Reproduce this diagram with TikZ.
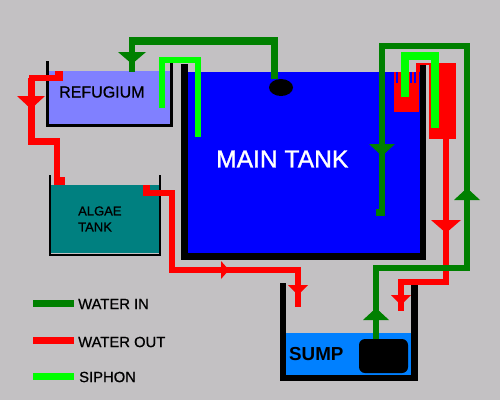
\documentclass[tikz,border=0pt]{standalone}
\usepackage{fontspec}
\setmainfont{Liberation Sans}
\newfontfamily\heavyfont[FakeBold=0.7]{Liberation Sans}
\newfontfamily\heavierfont[FakeBold=1.2]{Liberation Sans}
\definecolor{bggray}{HTML}{C3C1C3}
\definecolor{pgreen}{HTML}{008000}
\definecolor{pred}{HTML}{FF0000}
\definecolor{plime}{HTML}{00FF00}
\definecolor{pblue}{HTML}{0000FF}
\definecolor{refcol}{HTML}{8080FF}
\definecolor{algcol}{HTML}{008080}
\definecolor{sumpcol}{HTML}{0080FF}
\tikzset{
  pipe/.style={line width=#1,line cap=butt,line join=miter},
  greenpipe/.style={pipe=6pt,draw=pgreen},
  redpipe/.style={pipe=6pt,draw=pred},
  limepipe/.style={pipe=6pt,draw=plime},
  label/.style={anchor=west,inner sep=0pt,text=black},
}
\begin{document}
\begin{tikzpicture}[x=1pt,y=-1pt]
\useasboundingbox (0,0) rectangle (500,400);
\fill[bggray] (0,0) rectangle (500,400);
% water
\fill[refcol] (49,71) rectangle (170,124);
\fill[pblue] (188,72) rectangle (420,253);
\fill[algcol] (51,185) rectangle (159,253);
\fill[sumpcol] (286,333) rectangle (411,375);
% tank walls
\draw[pipe=3pt,draw=black] (47.5,61) -- (47.5,125.5) -- (171.5,125.5) -- (171.5,63);
\draw[pipe=7pt,draw=black] (184.5,64) -- (184.5,256.5) -- (423,256.5);
\fill[pred] (416,63) rectangle (431,72);
\fill[bggray] (426,65) rectangle (429,72);
\fill[pred] (394,72) rectangle (419,112);
\fill[pblue] (396,72) rectangle (398,83);
\fill[pblue] (410,72) rectangle (412,83);
\fill[pblue] (414,72) rectangle (416,83);
\fill[pred] (416,63) rectangle (420,72);
\fill[pred] (429,65) rectangle (439,139);
\fill[pred] (439,63) rectangle (456,139);
\fill[black] (420,65) rectangle (426,260);
\draw[pipe=2pt,draw=black] (50,175) -- (50,255) -- (160,255) -- (160,175);
\draw[pipe=6pt,draw=black] (283,283) -- (283,378) -- (414.5,378);
\fill[black] (411,285) rectangle (418,381);
% pump and overflow
\fill[black,rounded corners=6pt] (359,339) rectangle (408,373);
\fill[black] (281,87.5) ellipse [x radius=12,y radius=8.5];
% red pipes
\fill[pred] (55,71) rectangle (63,81);
\draw[redpipe] (63,78) -- (31.5,78) -- (31.5,141) -- (57,141) -- (57,185);
\draw[redpipe,line width=7pt] (28,141) -- (60,141);
\draw[redpipe,line width=7pt] (31.5,78) -- (31.5,141);
\fill[pred] (54,177) rectangle (65,185);
\fill[pred] (143,185) rectangle (150,196);
\draw[redpipe] (143,192.5) -- (172,192.5) -- (172,270) -- (298,270) -- (298,307);
\draw[redpipe] (446,139) -- (446,282) -- (401,282) -- (401,311);
% red arrows
\fill[pred] (17,96) -- (45,96) -- (31,109) -- cycle;
\fill[pred] (221,261) -- (221,279) -- (229,270) -- cycle;
\fill[pred] (288,285) -- (308,285) -- (298,295) -- cycle;
\fill[pred] (391,295) -- (411,295) -- (401,305) -- cycle;
\fill[pred] (431,220) -- (461,220) -- (446,233) -- cycle;
% lime siphons
\draw[limepipe] (162,108) -- (162,59.5) -- (198,59.5) -- (198,137);
\draw[limepipe,line width=8pt] (405,97) -- (405,55.5) -- (435,55.5) -- (435,128);
% green pipes
\fill[pgreen] (129,37) rectangle (278,45);
\draw[greenpipe] (132,37) -- (132,72);
\draw[greenpipe,line width=7pt] (274.5,37) -- (274.5,79);
\draw[greenpipe] (376,339) -- (376,268) -- (467,268) -- (467,46) -- (382,46) -- (382,216);
\fill[pgreen] (376,209) rectangle (385,216);
% green arrows
\fill[pgreen] (118,52) -- (146,52) -- (132,64) -- cycle;
\fill[pgreen] (369,144) -- (395,144) -- (382,156) -- cycle;
\fill[pgreen] (454,200) -- (480,200) -- (467,188) -- cycle;
\fill[pgreen] (363,320) -- (389,320) -- (376,308) -- cycle;
% legend
\fill[pgreen] (33,300) rectangle (74,307);
\fill[pred] (33,337) rectangle (74,344);
\fill[plime] (33,373) rectangle (74,380);
% labels
\node[label,font=\heavyfont\fontsize{16}{16}\selectfont] (refugium) at (59,92) {REFUGIUM};
\node[label,text=white,font=\heavierfont\fontsize{24.6}{24.6}\selectfont] (main) at (216,159) {MAIN TANK};
\node[label,font=\heavyfont\fontsize{13}{13}\selectfont] (algae) at (78,211) {ALGAE};
\node[label,font=\heavyfont\fontsize{13}{13}\selectfont] (tank) at (78,227) {TANK};
\node[label,font=\fontsize{18.8}{18.8}\selectfont\bfseries] (sump) at (289,354) {SUMP};
\node[label,font=\heavyfont\fontsize{14.8}{14.8}\selectfont] (wi) at (78,304) {WATER IN};
\node[label,font=\heavyfont\fontsize{14.8}{14.8}\selectfont] (wo) at (78,342) {WATER OUT};
\node[label,font=\heavyfont\fontsize{14.8}{14.8}\selectfont] (si) at (79,377) {SIPHON};
\end{tikzpicture}
\end{document}
